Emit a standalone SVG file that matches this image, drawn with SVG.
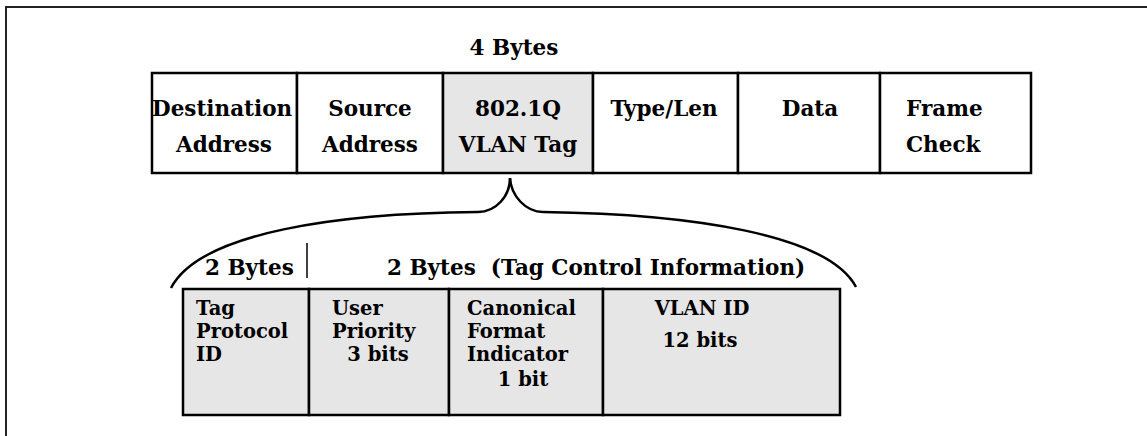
<svg xmlns="http://www.w3.org/2000/svg" width="1147" height="436" viewBox="0 0 1147 436">
<style>
text{font-family:"DejaVu Serif","Liberation Serif",serif;font-weight:bold;fill:#000;font-size:21.5px}
.m{text-anchor:middle}
.b{font-size:19.5px}
.cell{stroke:#000;stroke-width:2.5}
.w{fill:#fff}
.g{fill:#e6e6e6}
.ln{fill:none;stroke:#000;stroke-width:2.5}
</style>
<rect width="1147" height="436" fill="#fff"/>
<g id="frame"><path d="M6,436 V7 H1147" fill="none" stroke="#222" stroke-width="2"/></g>
<text class="m" x="514" y="55">4 Bytes</text>
<g id="dest"><rect class="cell w" x="152" y="73" width="145" height="100"/><text x="152" y="116">Destination</text><text class="m" x="224" y="152">Address</text></g>
<g id="src"><rect class="cell w" x="297" y="73" width="146" height="100"/><text class="m" x="370" y="116">Source</text><text class="m" x="370" y="152">Address</text></g>
<g id="tag"><rect class="cell g" x="443" y="73" width="150" height="100"/><text class="m" x="518" y="116">802.1Q</text><text class="m" x="518" y="152">VLAN Tag</text></g>
<g id="type"><rect class="cell w" x="593" y="73" width="145" height="100"/><text class="m" x="664" y="116">Type/Len</text></g>
<g id="data"><rect class="cell w" x="738" y="73" width="142" height="100"/><text class="m" x="810" y="116">Data</text></g>
<g id="fcs"><rect class="cell w" x="880" y="73" width="151" height="100"/><text x="906" y="116">Frame</text><text x="906" y="152">Check</text></g>
<g id="connectors">
<path class="ln" d="M510,178 C510,196 496,212 478,212 C340,213 200,232 171,288"/>
<path class="ln" d="M510,178 C511,196 526,212 543,212 C690,214 828,234 856,287"/>
<path d="M307,243 V278" stroke="#000" stroke-width="1.5"/>
</g>
<text x="205" y="275">2 Bytes</text>
<text x="387" y="275" xml:space="preserve">2 Bytes  (Tag Control Information)</text>
<g id="tpid"><rect class="cell g" x="183" y="289" width="126" height="126"/><text class="b" x="196" y="315">Tag</text><text class="b" x="196" y="338">Protocol</text><text class="b" x="196" y="361">ID</text></g>
<g id="pri"><rect class="cell g" x="309" y="289" width="140" height="126"/><text class="b" x="332" y="315">User</text><text class="b" x="332" y="338">Priority</text><text class="b m" x="378" y="361">3 bits</text></g>
<g id="cfi"><rect class="cell g" x="449" y="289" width="154" height="126"/><text class="b" x="467" y="315">Canonical</text><text class="b" x="467" y="338">Format</text><text class="b" x="467" y="361">Indicator</text><text class="b m" x="523" y="386">1 bit</text></g>
<g id="vid"><rect class="cell g" x="603" y="289" width="237" height="126"/><text class="b m" x="702" y="315">VLAN ID</text><text class="b m" x="700" y="347">12 bits</text></g>
</svg>
